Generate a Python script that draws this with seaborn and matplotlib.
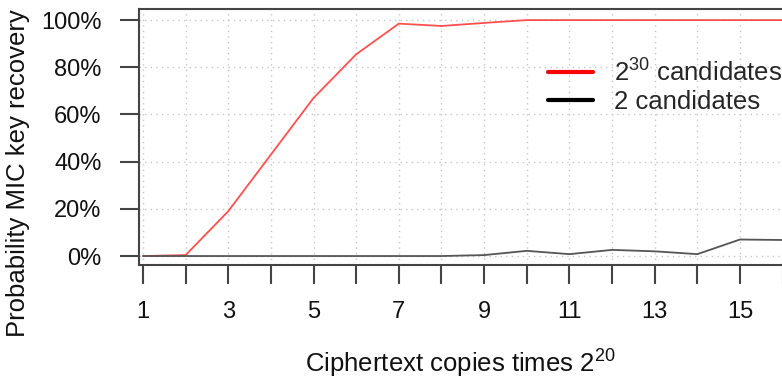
import pandas as pd
import seaborn as sns
import matplotlib.pyplot as plt
from matplotlib.lines import Line2D

# Dados (probabilidade em %)
copias = list(range(1, 17))
cand_2_30 = [0, 0.4, 19, 43, 67, 85.5, 98.5, 97.5, 98.8, 100, 100, 100, 100, 100, 100, 100]
cand_2 = [0, 0, 0, 0, 0, 0, 0, 0, 0.4, 2.2, 0.8, 2.6, 2.0, 0.8, 7.0, 6.8]
rotulos = ['$2^{30}$ candidates', '2 candidates']

dados = pd.DataFrame({
    'copias': copias * 2,
    'prob': cand_2_30 + cand_2,
    'serie': [rotulos[0]] * len(copias) + [rotulos[1]] * len(copias),
})

sns.set_style('white')
plt.rcParams['font.family'] = ['Liberation Sans', 'DejaVu Sans']
plt.rcParams['mathtext.fontset'] = 'custom'
plt.rcParams['mathtext.rm'] = 'Liberation Sans'
plt.rcParams['mathtext.it'] = 'Liberation Sans'

fig = plt.figure(figsize=(7.82, 3.83), dpi=100)
ax = fig.add_axes([139 / 782, 118 / 383, 643.6 / 782, 256 / 383])

sns.lineplot(data=dados, x='copias', y='prob', hue='serie',
             palette={rotulos[0]: '#ff5050', rotulos[1]: '#555555'},
             linewidth=1.3, ax=ax, legend=False, zorder=3)

ax.set_xlim(0.906, 16.0)
ax.set_ylim(-3.8, 104.7)

ax.set_xticks(copias)
ax.set_xticklabels([str(c) if c % 2 == 1 else '' for c in copias])
ax.set_yticks([0, 20, 40, 60, 80, 100])
ax.set_yticklabels(['0%', '20%', '40%', '60%', '80%', '100%'])

ax.grid(True, color='#c8c8c8', linestyle=(0, (1, 3)), linewidth=1.0)
ax.set_axisbelow(True)

for lado in ['left', 'bottom', 'top']:
    ax.spines[lado].set_color('#444444')
    ax.spines[lado].set_linewidth(1.5)
    ax.spines[lado].set_visible(True)
ax.spines['right'].set_visible(False)

ax.tick_params(axis='both', direction='out', length=14, width=1.5,
               bottom=True, left=True,
               color='#444444', labelsize=17, labelcolor='#111111')
ax.tick_params(axis='x', pad=12)
ax.tick_params(axis='y', pad=13)

ax.set_xlabel('Ciphertext copies times $2^{20}$', fontsize=18.5,
              color='#111111', labelpad=18)
ax.set_ylabel('Probability MIC key recovery', fontsize=18.5, color='#111111')
ax.yaxis.set_label_coords(-0.169, 0.359)

linhas = [Line2D([], [], color='red', lw=3), Line2D([], [], color='black', lw=3)]
ax.legend(linhas, rotulos, loc='upper left', bbox_to_anchor=(0.6, 0.895),
          frameon=False, fontsize=18.5, handlelength=1.75, handletextpad=0.8,
          labelspacing=0.15)

plt.savefig('out.png', dpi=100)
